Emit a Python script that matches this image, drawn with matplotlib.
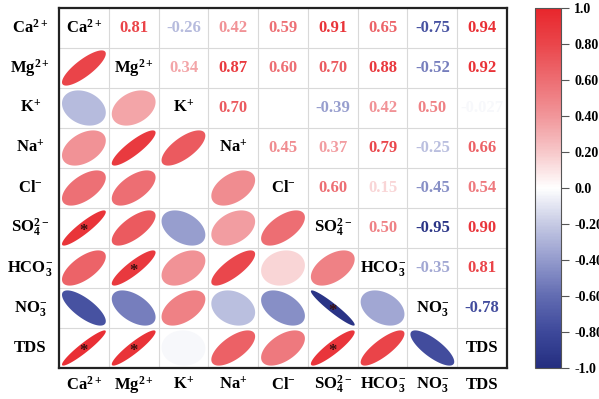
import numpy as np
import matplotlib
matplotlib.use("Agg")
import matplotlib.pyplot as plt
from matplotlib.colors import LinearSegmentedColormap, Normalize
from matplotlib.cm import ScalarMappable

plt.rcParams['font.family'] = ['Liberation Serif', 'DejaVu Serif']
plt.rcParams['font.weight'] = 'bold'
plt.rcParams['mathtext.fontset'] = 'custom'
plt.rcParams['mathtext.rm'] = 'Liberation Serif:bold'
plt.rcParams['mathtext.it'] = 'Liberation Serif:bold'
plt.rcParams['mathtext.bf'] = 'Liberation Serif:bold'
plt.rcParams['mathtext.default'] = 'rm'

labels = ['Ca$^{2+}$', 'Mg$^{2+}$', 'K$^{+}$', 'Na$^{+}$', 'Cl$^{-}$',
          'SO$_4^{2-}$', 'HCO$_3^{-}$', 'NO$_3^{-}$', 'TDS']

# upper-triangle correlations, row by row (NaN = blank cell)
row_ca = [0.81, -0.26, 0.42, 0.59, 0.91, 0.65, -0.75, 0.94]
row_mg = [0.34, 0.87, 0.60, 0.70, 0.88, -0.52, 0.92]
row_k = [0.70, np.nan, -0.39, 0.42, 0.50, -0.027]
row_na = [0.45, 0.37, 0.79, -0.25, 0.66]
row_cl = [0.60, 0.15, -0.45, 0.54]
row_so4 = [0.50, -0.95, 0.90]
row_hco3 = [-0.35, 0.81]
row_no3 = [-0.78]
upper_rows = [row_ca, row_mg, row_k, row_na, row_cl, row_so4, row_hco3, row_no3]

# lower-triangle cells (row, col) carrying an asterisk
star_cells = [(5, 0), (6, 1), (8, 0), (8, 1), (7, 5), (8, 5)]

cbar_ticks = [1.0, 0.8, 0.6, 0.4, 0.2, 0.0, -0.2, -0.4, -0.6, -0.8, -1.0]
cbar_ticklabels = ['1.0', '0.80', '0.60', '0.40', '0.20', '0.0',
                   '-0.20', '-0.40', '-0.60', '-0.80', '-1.0']

n = len(labels)
M = np.full((n, n), np.nan)
for i, row in enumerate(upper_rows):
    for k, v in enumerate(row):
        j = i + 1 + k
        M[i, j] = v
        M[j, i] = v

anchor_cols = ['#242e80', '#3e499b', '#626cb2', '#949bcd', '#c6cae4', '#ffffff',
               '#f7c8ca', '#f1969a', '#ed6e73', '#ea464b', '#e8262c']
cmap = LinearSegmentedColormap.from_list('rb', anchor_cols)
norm = Normalize(-1, 1)

fig = plt.figure(figsize=(5.99, 3.99), dpi=100)
ax = fig.add_axes([59/599, 1-368/399, 448/599, 360/399])
ax.set_xlim(0, n)
ax.set_ylim(n, 0)
for k in range(1, n):
    ax.axhline(k, color='#d9d9d9', lw=0.8, zorder=0)
    ax.axvline(k, color='#d9d9d9', lw=0.8, zorder=0)
ax.set_xticks([])
ax.set_yticks([])
for s in ax.spines.values():
    s.set_linewidth(1.6)
    s.set_color('#222222')

t = np.linspace(0, 2*np.pi, 200)
sc = 0.44
for i in range(n):
    for j in range(n):
        cx, cy = j + 0.5, i + 0.5
        r = M[i, j]
        if i == j:
            ax.text(cx, cy, labels[i], ha='center', va='center', fontsize=12,
                    color='black')
        elif j > i:
            if np.isnan(r):
                continue
            s = f"{r:.3f}" if abs(r) < 0.1 else f"{r:.2f}"
            ax.text(cx, cy, s, ha='center', va='center', fontsize=12,
                    color=cmap(norm(r)))
        else:
            if np.isnan(r):
                continue
            d = np.arccos(r)
            xs = cx + sc*np.cos(t + d/2)
            ys = cy - sc*np.cos(t - d/2)
            ax.fill(xs, ys, color=cmap(norm(r)), lw=0)
            if (i, j) in star_cells:
                ax.text(cx, cy + 0.08, '*', ha='center', va='center',
                        fontsize=12, color='#3a1010')

for i in range(n):
    ax.text(-0.58, i + 0.5, labels[i], ha='center', va='center', fontsize=12,
            clip_on=False)
    ax.text(i + 0.5, n + 0.42, labels[i], ha='center', va='center', fontsize=12,
            clip_on=False)

cax = fig.add_axes([535/599, 1-368/399, 26/599, 360/399])
sm = ScalarMappable(norm=norm, cmap=cmap)
cb = fig.colorbar(sm, cax=cax)
cb.set_ticks(cbar_ticks)
cb.set_ticklabels(cbar_ticklabels)
cb.outline.set_linewidth(0.8)
cb.outline.set_edgecolor('#555555')
cax.tick_params(length=6, width=0.8, labelsize=10, color='#555555')
for lab in cax.get_yticklabels():
    lab.set_fontweight('bold')

fig.savefig('out.png', dpi=100)
